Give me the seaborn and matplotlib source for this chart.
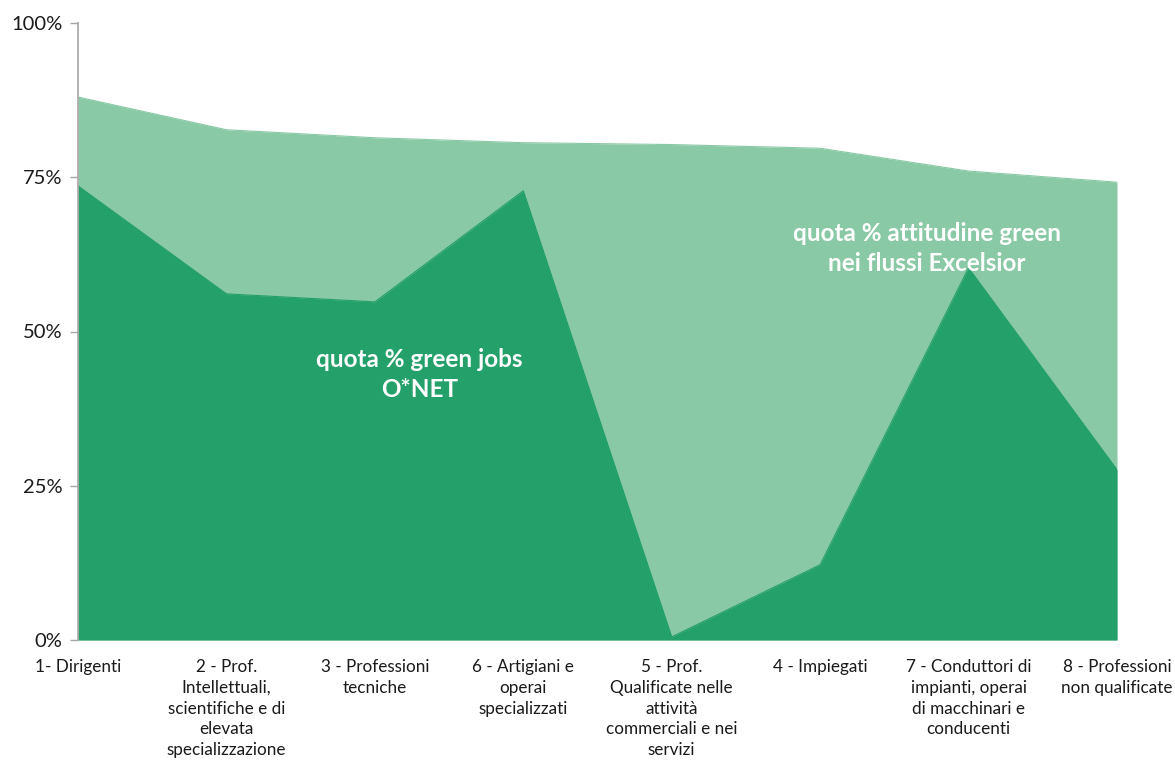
import matplotlib
matplotlib.use("Agg")
import matplotlib.pyplot as plt
import seaborn as sns
import numpy as np
import pandas as pd

categories = [
    "1- Dirigenti",
    "2 - Prof.\nIntellettuali,\nscientifiche e di\nelevata\nspecializzazione",
    "3 - Professioni\ntecniche",
    "6 - Artigiani e\noperai\nspecializzati",
    "5 - Prof.\nQualificate nelle\nattività\ncommerciali e nei\nservizi",
    "4 - Impiegati",
    "7 - Conduttori di\nimpianti, operai\ndi macchinari e\nconducenti",
    "8 - Professioni\nnon qualificate",
]
attitudine_green = [88.0, 82.7, 81.4, 80.6, 80.3, 79.7, 76.0, 74.2]
green_jobs_onet = [73.6, 56.1, 54.8, 72.8, 0.5, 12.2, 60.3, 27.6]
y_ticks = [0, 25, 50, 75, 100]

sns.set_style("white")
plt.rcParams["font.family"] = ["Lato", "DejaVu Sans"]

light = "#89C9A5"
dark = "#24A06B"

df = pd.DataFrame({
    "pos": np.arange(len(categories)),
    "attitudine": attitudine_green,
    "onet": green_jobs_onet,
})

fig = plt.figure(figsize=(11.75, 7.62), dpi=100)
ax = fig.add_axes([78 / 1175, 1 - 640 / 762, (1117 - 78) / 1175, (640 - 23) / 762])

sns.lineplot(data=df, x="pos", y="attitudine", ax=ax, color=light, linewidth=0.8)
ax.fill_between(df["pos"], 0, df["attitudine"], color=light, linewidth=0)
sns.lineplot(data=df, x="pos", y="onet", ax=ax, color=dark, linewidth=0.8)
ax.fill_between(df["pos"], 0, df["onet"], color=dark, linewidth=0)

ax.set_xlim(0, len(categories) - 1)
ax.set_ylim(0, 100)
ax.set_yticks(y_ticks)
ax.set_yticklabels([f"{t}%" for t in y_ticks], fontsize=14.5, color="#1a1a1a")
ax.set_xticks(df["pos"])
ax.set_xticklabels(categories, fontsize=12.3, color="#1a1a1a", linespacing=1.36,
                   va="top", ha="center")
ax.tick_params(axis="x", length=0, pad=14)
ax.tick_params(axis="y", length=6, width=1, color="#a6a6a6", left=True, pad=5, direction="out")
ax.set_xlabel("")
ax.set_ylabel("")

for side in ["top", "right", "bottom"]:
    ax.spines[side].set_visible(False)
ax.spines["left"].set_color("#a6a6a6")
ax.spines["left"].set_linewidth(1.2)

ax.text(2.3, 43.0, "quota % green jobs\nO*NET", ha="center", va="center",
        color="white", fontsize=17.5, fontweight="bold", linespacing=1.36)
ax.text(5.72, 63.5, "quota % attitudine green\nnei flussi Excelsior", ha="center", va="center",
        color="white", fontsize=17.5, fontweight="bold", linespacing=1.36)

fig.savefig("out.png", dpi=100)
